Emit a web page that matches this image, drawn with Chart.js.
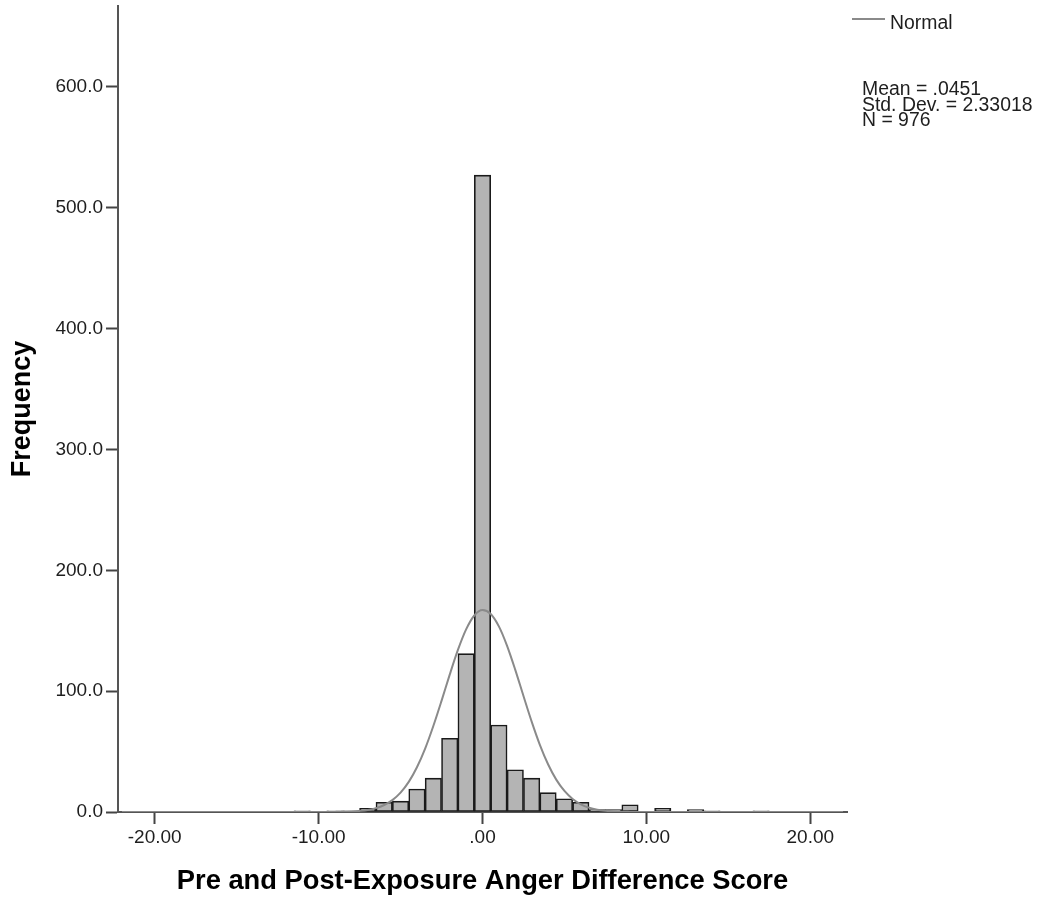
<!DOCTYPE html>
<html>
<head>
<meta charset="utf-8">
<script src="https://cdn.jsdelivr.net/npm/chart.js@4.4.0/dist/chart.umd.min.js"></script>
<style>
html,body{margin:0;padding:0;background:#fff;}
#wrap{width:1041px;height:899px;position:relative;}
</style>
</head>
<body>
<div id="wrap"><canvas id="c" width="1041" height="899"></canvas></div>
<script>
// ---- Data ----
const binCenters  = [-11, -9, -8, -7, -6, -5, -4, -3, -2, -1, 0, 1, 2, 3, 4, 5, 6, 7, 8, 9, 11, 13, 14, 17];
const frequencies = [  1,  1,  1,  3,  8,  9, 19, 28, 61, 131, 527, 72, 35, 28, 16, 11, 8, 2, 2, 6, 3, 2, 1, 1];

// Normal curve heights
const normalX = [-22, -10, -9.5, -9, -8.5, -8, -7.5, -7, -6.5, -6, -5.5, -5, -4.5, -4, -3.5, -3, -2.5, -2, -1.5, -1, -0.5, 0,
                 0.5, 1, 1.5, 2, 2.5, 3, 3.5, 4, 4.5, 5, 5.5, 6, 6.5, 7, 7.5, 8, 8.5, 9, 9.5, 10, 22];
const normalY = [0, 0.02, 0.04, 0.1, 0.2, 0.4, 0.9, 1.7, 3.2, 5.8, 9.8, 16.0, 24.9, 37.0, 52.5, 71.2, 92.0, 113.7, 134.1, 151.1, 162.6, 167.1,
                 163.9, 153.6, 137.5, 117.6, 96.0, 74.8, 55.6, 39.5, 26.8, 17.4, 10.8, 6.4, 3.6, 1.9, 1.0, 0.5, 0.2, 0.1, 0.04, 0.02, 0];

const xTickValues = [-20, -10, 0, 10, 20];
const xTickLabels = ['-20.00', '-10.00', '.00', '10.00', '20.00'];
const yTickValues = [0, 100, 200, 300, 400, 500, 600];
const yTickLabels = ['0.0', '100.0', '200.0', '300.0', '400.0', '500.0', '600.0'];

const xAxisTitle = 'Pre and Post-Exposure Anger Difference Score';
const yAxisTitle = 'Frequency';
const legendLabel = 'Normal';
const statsLines = ['Mean = .0451', 'Std. Dev. = 2.33018', 'N = 976'];

const xMin = -22.24, xMax = 22.24, yMin = 0, yMax = 667;

// ---- Styling ----
const FONT = "'Liberation Sans', Arial, Helvetica, sans-serif";
const W = 1041, H = 899;
const AREA = {left: 118, right: 847, top: 6, bottom: 812};

const overlayPlugin = {
  id: 'overlay',
  afterDraw(chart) {
    const ctx = chart.ctx;
    ctx.save();
    // legend line
    ctx.strokeStyle = '#8a8a8a';
    ctx.lineWidth = 2;
    ctx.beginPath();
    ctx.moveTo(852, 19);
    ctx.lineTo(885, 19);
    ctx.stroke();
    ctx.fillStyle = '#1e1e1e';
    ctx.font = '19.4px ' + FONT;
    ctx.textAlign = 'left';
    ctx.textBaseline = 'alphabetic';
    ctx.fillText(legendLabel, 890, 28.5);
    const baselines = [95, 111, 126];
    statsLines.forEach((t, i) => ctx.fillText(t, 862, baselines[i]));
    ctx.restore();
  }
};

const chart = new Chart(document.getElementById('c'), {
  type: 'bar',
  data: {
    datasets: [
      {
        type: 'line',
        label: legendLabel,
        data: normalX.map((x, i) => ({x: x, y: normalY[i]})),
        borderColor: '#8a8a8a',
        borderWidth: 2,
        pointRadius: 0,
        fill: false,
        cubicInterpolationMode: 'monotone',
        order: 1
      },
      {
        type: 'bar',
        label: 'Frequency',
        data: binCenters.map((x, i) => ({x: x, y: frequencies[i]})),
        backgroundColor: '#b4b4b4',
        borderColor: '#1a1a1a',
        borderWidth: 1.6,
        borderSkipped: false,
        barPercentage: 1,
        categoryPercentage: 1,
        order: 2
      }
    ]
  },
  options: {
    responsive: false,
    animation: false,
    devicePixelRatio: 1,
    layout: {padding: {left: 0, top: AREA.top, right: W - AREA.right, bottom: 0}},
    plugins: {legend: {display: false}, tooltip: {enabled: false}},
    scales: {
      x: {
        type: 'linear',
        position: 'bottom',
        min: xMin,
        max: xMax,
        offset: false,
        grid: {offset: false, drawOnChartArea: false, drawTicks: true, tickLength: 12, tickWidth: 2, tickColor: '#444', color: '#444'},
        border: {display: true, color: '#555', width: 2},
        ticks: {
          font: {family: FONT, size: 19},
          color: '#1e1e1e',
          padding: 2,
          maxRotation: 0,
          autoSkip: false,
          callback: (v) => { const k = xTickValues.indexOf(v); return k >= 0 ? xTickLabels[k] : ''; }
        },
        afterBuildTicks: (s) => { s.ticks = xTickValues.map(v => ({value: v})); },
        afterFit: (s) => { s.height = H - AREA.bottom; s.paddingLeft = 0; s.paddingRight = 0; },
        title: {display: true, text: xAxisTitle, color: '#000', font: {family: FONT, size: 27.3, weight: 'bold', lineHeight: 1.2}, padding: {top: 0, bottom: 1}}
      },
      y: {
        type: 'linear',
        position: 'left',
        min: yMin,
        max: yMax,
        grid: {offset: false, drawOnChartArea: false, drawTicks: true, tickLength: 12, tickWidth: 2, tickColor: '#444', color: '#444'},
        border: {display: true, color: '#555', width: 2},
        ticks: {
          font: {family: FONT, size: 19},
          color: '#1e1e1e',
          padding: 3,
          autoSkip: false,
          callback: (v) => { const k = yTickValues.indexOf(v); return k >= 0 ? yTickLabels[k] : ''; }
        },
        afterBuildTicks: (s) => { s.ticks = yTickValues.map(v => ({value: v})); },
        afterFit: (s) => { s.width = AREA.left; s.paddingTop = 0; s.paddingBottom = 0; },
        title: {display: true, text: yAxisTitle, color: '#000', font: {family: FONT, size: 27, weight: 'bold', lineHeight: 1.2}, padding: {top: 6, bottom: 0}}
      }
    }
  },
  plugins: [overlayPlugin]
});
</script>
</body>
</html>
